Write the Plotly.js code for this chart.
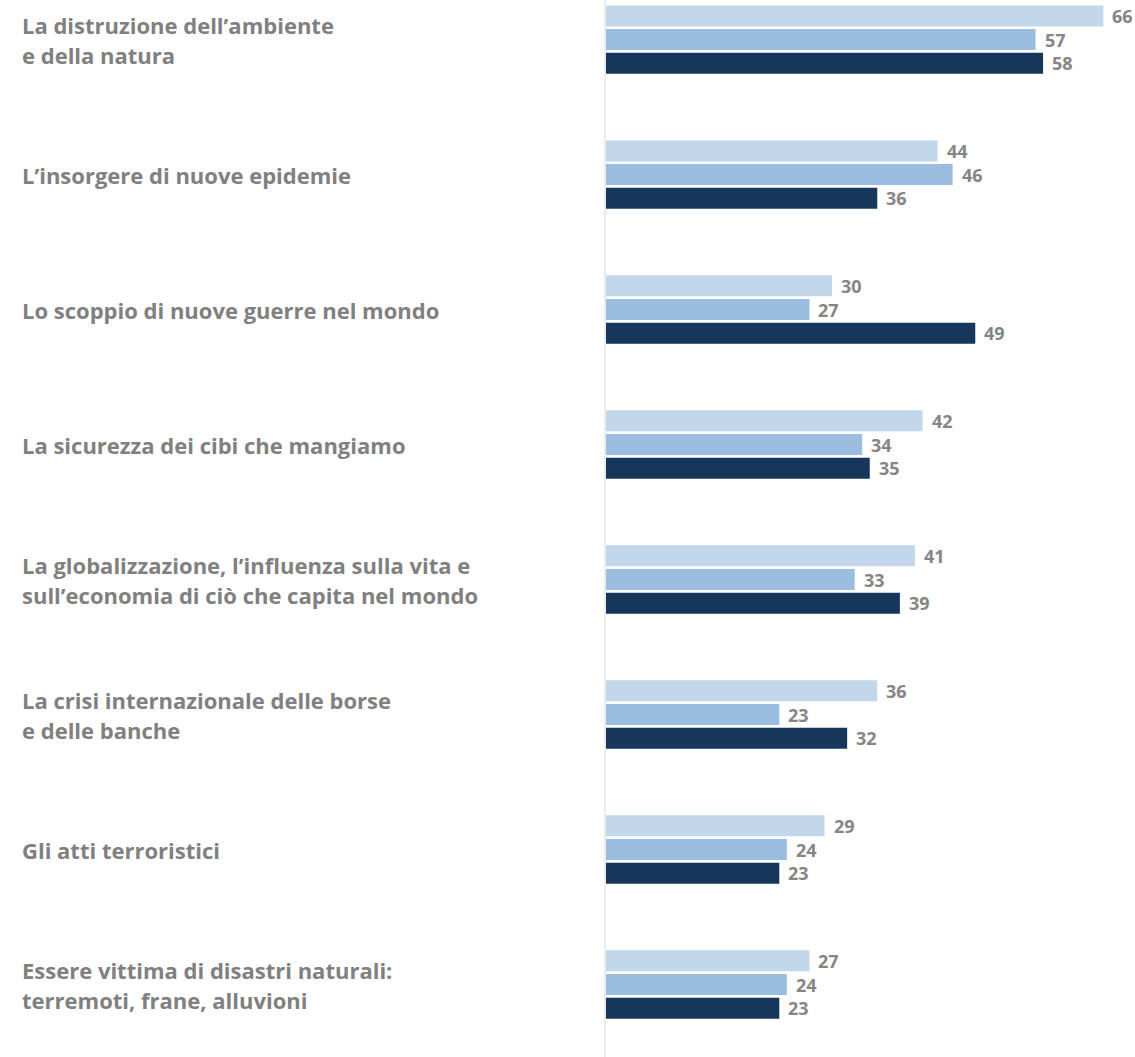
<!DOCTYPE html>
<html>
<head>
<meta charset="utf-8">
<script src="https://cdn.plot.ly/plotly-3.0.1.min.js"></script>
<style>html,body{margin:0;padding:0;background:#fff;}#chart{width:1135px;height:1057px;}</style>
</head>
<body>
<div id="chart"></div>
<script>
const categories = [
  "La distruzione dell’ambiente<br>e della natura",
  "L’insorgere di nuove epidemie",
  "Lo scoppio di nuove guerre nel mondo",
  "La sicurezza dei cibi che mangiamo",
  "La globalizzazione, l’influenza sulla vita e<br>sull’economia di ciò che capita nel mondo",
  "La crisi internazionale delle borse<br>e delle banche",
  "Gli atti terroristici",
  "Essere vittima di disastri naturali:<br>terremoti, frane, alluvioni"
];
const series1 = [66, 44, 30, 42, 41, 36, 29, 27];
const series2 = [57, 46, 27, 34, 33, 23, 24, 24];
const series3 = [58, 36, 49, 35, 39, 32, 23, 23];
const seriesNames = ["Serie 1", "Serie 2", "Serie 3"];
const colors = ["#c3d7eb", "#9bbde0", "#17365b"];

const allSeries = [series1, series2, series3];
const idx = categories.map((c, i) => i);

const traces = allSeries.map((s, k) => ({
  type: "bar",
  orientation: "h",
  name: seriesNames[k],
  x: s,
  y: idx,
  marker: {color: colors[k]},
  hoverinfo: "x"
}));

const annotations = [];
const nS = allSeries.length;
const groupFrac = 1 - 0.474;
allSeries.forEach((s, k) => {
  const off = (k - (nS - 1) / 2) * groupFrac / nS;
  s.forEach((v, i) => {
    annotations.push({
      x: v, y: i + off, xref: "x", yref: "y",
      text: "<b>" + v + "</b>", showarrow: false,
      xanchor: "left", yanchor: "middle", xshift: 7,
      font: {family: "Open Sans, sans-serif", size: 18, color: "#858585"}
    });
  });
});
categories.forEach((c, i) => {
  const lines = c.split("<br>");
  lines.forEach((ln, j) => {
    annotations.push({
      x: (20 - 606) / 529, xref: "paper", y: i, yref: "y",
      text: "<b>" + ln + "</b>", showarrow: false, xanchor: "left", yanchor: "middle",
      yshift: -((j - (lines.length - 1) / 2) * 30),
      font: {family: "Open Sans, sans-serif", size: 22, color: "#808080"}
    });
  });
});

const layout = {
  width: 1135, height: 1057,
  margin: {l: 606, r: 0, t: 0, b: 0},
  paper_bgcolor: "#fff", plot_bgcolor: "#fff",
  barmode: "group", bargap: 0.474, bargroupgap: 0.113,
  showlegend: false,
  xaxis: {range: [0, 70.2], showgrid: false, zeroline: false, showticklabels: false, ticks: "", showline: false},
  yaxis: {range: [7.537, -0.293], showgrid: false, zeroline: false, showticklabels: false, ticks: "",
          showline: true, linecolor: "#ececec", linewidth: 2},
  annotations: annotations
};

Plotly.newPlot("chart", traces, layout, {displayModeBar: false, staticPlot: true});
</script>
</body>
</html>
